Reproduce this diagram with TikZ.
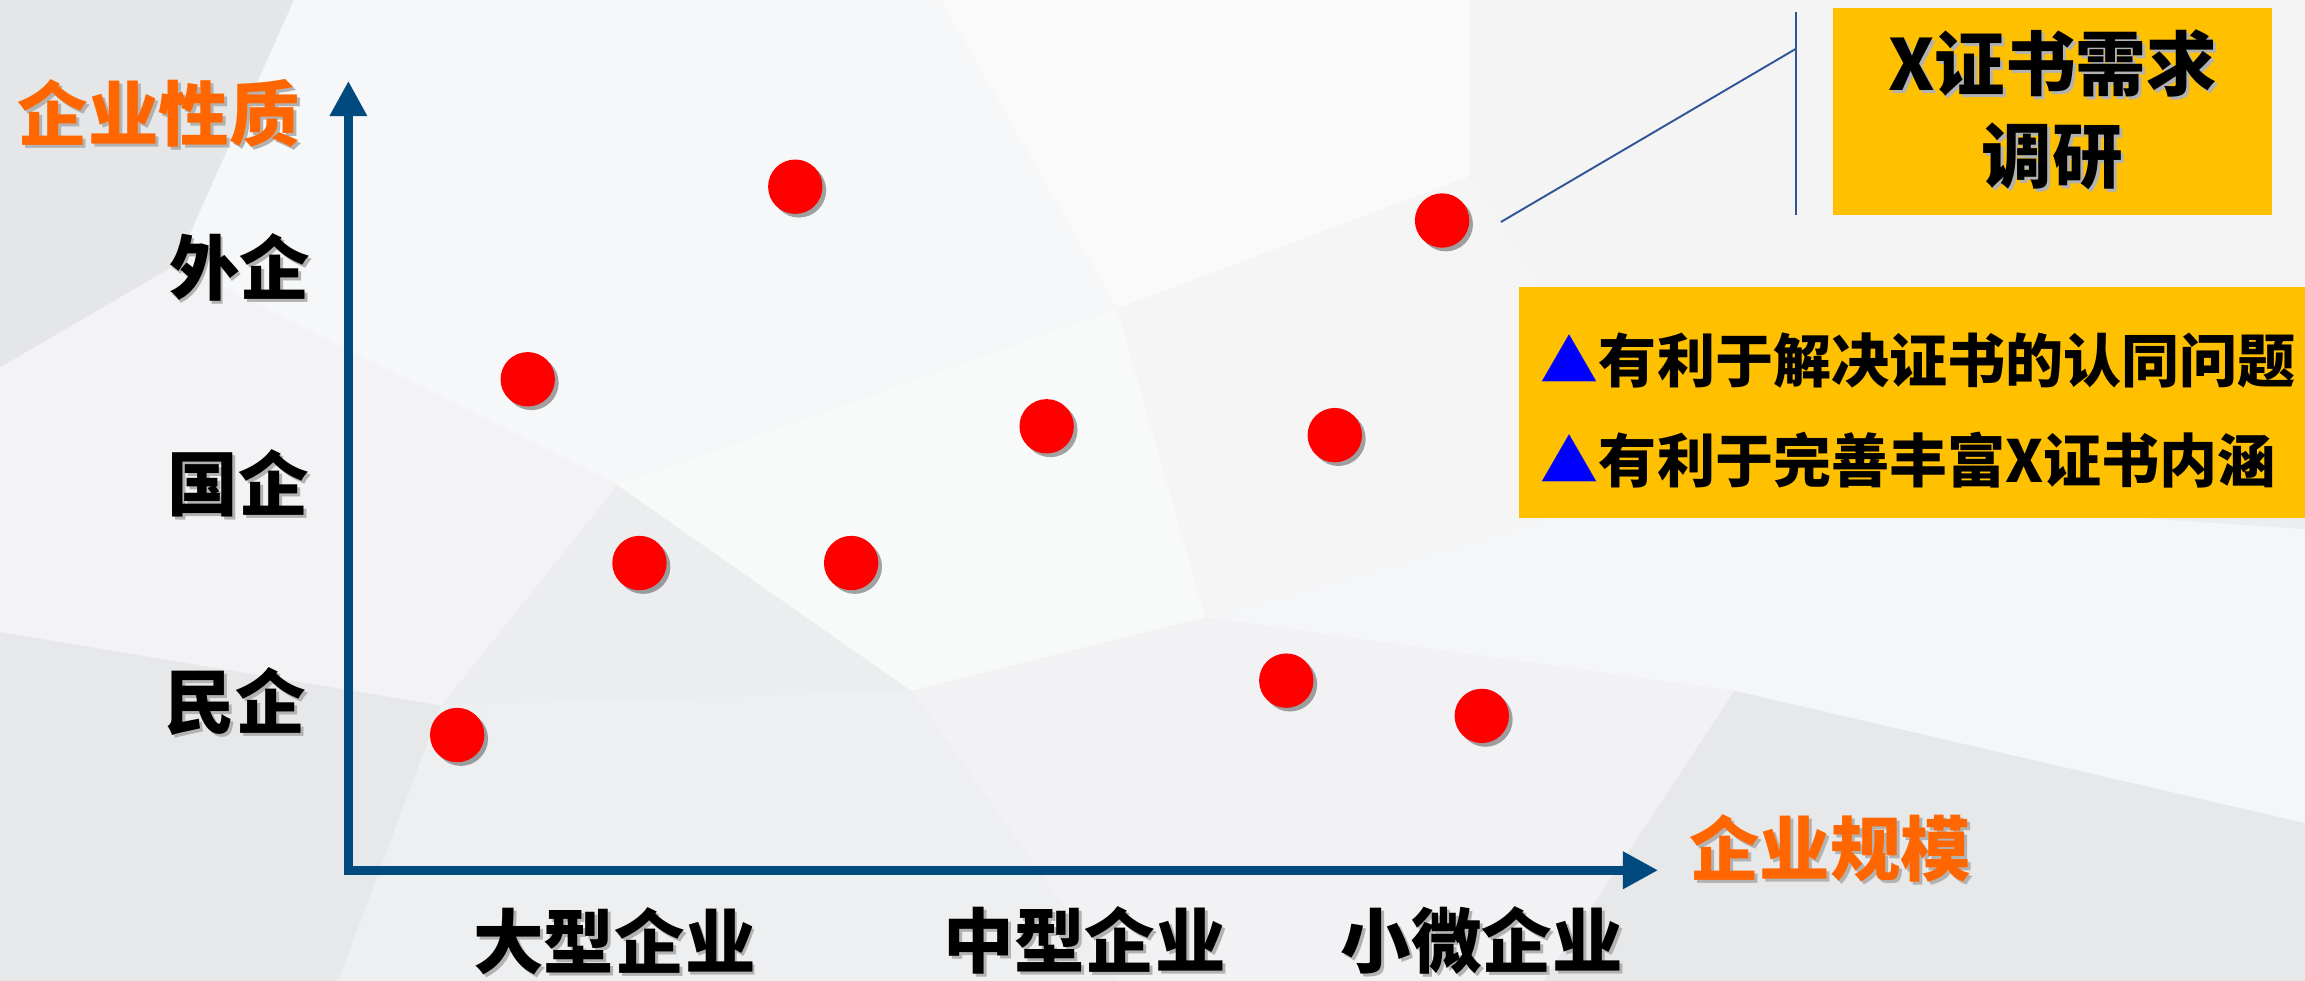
\documentclass[tikz,border=0pt]{standalone}
\usepackage{fontspec}
\setmainfont{Noto Sans CJK SC}
\usetikzlibrary{arrows.meta,shadows}
\definecolor{axisblue}{HTML}{004A80}
\definecolor{labelorange}{HTML}{FF6600}
\definecolor{boxyellow}{HTML}{FFC000}
\definecolor{dotred}{HTML}{FF0000}
\definecolor{calloutblue}{HTML}{2F5597}
\definecolor{bgbase}{HTML}{ECEDEF}
\newcommand{\txtshadow}[2][black]{\makebox[0pt][l]{\hspace{2pt}\raisebox{-2pt}{\color{black!30}#2}}{\color{#1}#2}}
\tikzset{
  axisline/.style={line width=6pt, draw=axisblue, line join=miter,
    {Triangle[length=24pt,width=24pt]}-{Triangle[length=24pt,width=24pt]}},
  dot/.style={circle, fill=dotred, minimum size=37pt, inner sep=0pt,
    drop shadow={shadow xshift=2.5pt, shadow yshift=-2.5pt, opacity=0.35, fill=black}},
  axistitle/.style={font=\bfseries\fontsize{48}{54}\selectfont, inner sep=0pt},
  ticklabel/.style={font=\bfseries\fontsize{48}{54}\selectfont, inner sep=0pt},
  callout/.style={draw=calloutblue, line width=1.3pt},
  yellowbox/.style={fill=boxyellow, draw=none},
  bgpoly/.style={draw=none},
}
\begin{document}
\begin{tikzpicture}[x=1pt,y=-1pt]
\useasboundingbox (0,0) rectangle (1568,667);
% background low-poly texture
\fill[bgbase] (0,0) rectangle (1568,667);
\fill[bgpoly, fill=black!3!bgbase] (0,0) -- (200,0) -- (120,180) -- (0,250) -- cycle;
\fill[bgpoly, fill=white!55!bgbase] (200,0) -- (640,0) -- (760,210) -- (420,330) -- (120,180) -- cycle;
\fill[bgpoly, fill=white!75!bgbase] (640,0) -- (1000,0) -- (1000,120) -- (760,210) -- cycle;
\fill[bgpoly, fill=white!45!bgbase] (760,210) -- (1000,120) -- (1130,330) -- (820,420) -- cycle;
\fill[bgpoly, fill=white!65!bgbase] (420,330) -- (760,210) -- (820,420) -- (620,470) -- cycle;
\fill[bgpoly, fill=white!35!bgbase] (0,250) -- (120,180) -- (420,330) -- (300,480) -- (0,430) -- cycle;
\fill[bgpoly, fill=white!10!bgbase] (300,480) -- (620,470) -- (760,667) -- (230,667) -- cycle;
\fill[bgpoly, fill=black!2!bgbase] (0,430) -- (300,480) -- (230,667) -- (0,667) -- cycle;
\fill[bgpoly, fill=white!30!bgbase] (620,470) -- (820,420) -- (1180,470) -- (1050,667) -- (760,667) -- cycle;
\fill[bgpoly, fill=white!50!bgbase] (1130,330) -- (1568,360) -- (1568,560) -- (1180,470) -- (820,420) -- cycle;
\fill[bgpoly, fill=black!2!bgbase] (1180,470) -- (1568,560) -- (1568,667) -- (1050,667) -- cycle;
\fill[bgpoly, fill=white!40!bgbase] (1000,0) -- (1568,0) -- (1568,200) -- (1130,330) -- (1000,120) -- cycle;

% axes
\coordinate (ytip) at (237,55);
\coordinate (xtip) at (1128,592);
\draw[axisline] (ytip) |- (xtip);

% axis titles
\node[axistitle] (ytitle) at (108,78) {\txtshadow[labelorange]{企业性质}};
\node[axistitle] (xtitle) at (1245,578) {\txtshadow[labelorange]{企业规模}};

% y tick labels
\node[ticklabel] (waiqi) at (163,183) {\txtshadow{外企}};
\node[ticklabel] (guoqi) at (162,330) {\txtshadow{国企}};
\node[ticklabel] (minqi) at (160,478) {\txtshadow{民企}};

% x tick labels
\node[ticklabel] (daxing) at (418,641) {\txtshadow{大型企业}};
\node[ticklabel] (zhongxing) at (738,641) {\txtshadow{中型企业}};
\node[ticklabel] (xiaowei) at (1008,641) {\txtshadow{小微企业}};

% dots
\node[dot] (d1) at (541,127) {};
\node[dot] (d2) at (981,150) {};
\node[dot] (d3) at (359,258) {};
\node[dot] (d4) at (712,290) {};
\node[dot] (d5) at (908,296) {};
\node[dot] (d6) at (435,383) {};
\node[dot] (d7) at (579,383) {};
\node[dot] (d8) at (875,463) {};
\node[dot] (d9) at (311,500) {};
\node[dot] (d10) at (1008,487) {};

% callout
\coordinate (cstart) at (1021,151);
\coordinate (cbend) at (1222,33);
\coordinate (vtop) at (1222,8);
\coordinate (vbot) at (1222,146);
\draw[callout] (cstart) -- (cbend);
\draw[callout] (vtop) -- (vbot);

% title box
\node[yellowbox, minimum width=298pt, minimum height=141pt, anchor=north west] (titlebox) at (1247,5) {};
\node[font=\bfseries\fontsize{48}{62}\selectfont, align=center, inner sep=0pt] (titletext) at (titlebox.center)
  {\txtshadow{X证书需求}\\\txtshadow{调研}};

% benefit box
\node[yellowbox, minimum width=540pt, minimum height=157pt, anchor=north west] (benefitbox) at (1033,195) {};
\node[font=\bfseries\fontsize{39.5}{68}\selectfont, align=left, inner sep=0pt, anchor=west] (benefittext) at (1048,279)
  {\textcolor{blue}{▲}有利于解决证书的认同问题\\\textcolor{blue}{▲}有利于完善丰富X证书内涵};
\end{tikzpicture}
\end{document}
